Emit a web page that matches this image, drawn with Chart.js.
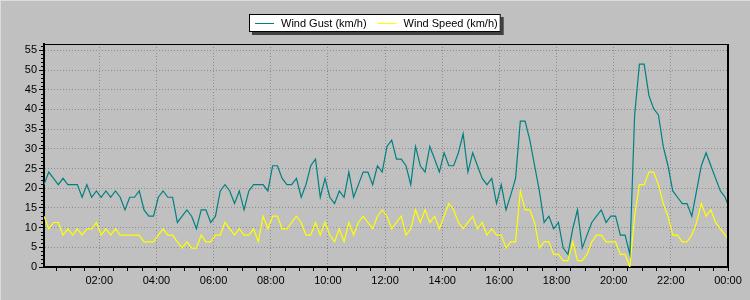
<!DOCTYPE html>
<html>
<head>
<meta charset="utf-8">
<script src="https://cdn.jsdelivr.net/npm/chart.js@4.4.1/dist/chart.umd.min.js"></script>
<style>
  html, body { margin: 0; padding: 0; background: #c0c0c0; }
  #wrap { width: 750px; height: 300px; }
</style>
</head>
<body>
<div id="wrap"><canvas id="windChart" width="750" height="300"></canvas></div>
<script>
// Mesures en km/h, une toutes les 10 minutes à partir de 00:04
const startMinute = 4;
const stepMinutes = 10;

const windGust = [
  20.9, 24.1, 22.5, 20.9, 22.5, 20.9, 20.9, 20.9, 17.7, 20.9,
  17.7, 19.3, 17.7, 19.3, 17.7, 19.3, 17.7, 14.5, 17.7, 17.7,
  19.3, 14.5, 12.9, 12.9, 17.7, 19.3, 17.7, 17.7, 11.3, 12.9,
  14.5, 12.9, 9.7, 14.5, 14.5, 11.3, 12.9, 19.3, 20.9, 19.3,
  16.1, 19.3, 14.5, 19.3, 20.9, 20.9, 20.9, 19.3, 25.7, 25.7,
  22.5, 20.9, 20.9, 22.5, 17.7, 20.9, 25.7, 27.4, 17.7, 22.5,
  17.7, 16.1, 19.3, 17.7, 24.1, 17.7, 20.9, 24.1, 24.1, 20.9,
  25.7, 24.1, 30.6, 32.2, 27.4, 27.4, 25.7, 20.9, 30.6, 25.7,
  24.1, 30.6, 27.4, 24.1, 29.0, 25.7, 25.7, 29.0, 33.8, 24.1,
  29.0, 25.7, 22.5, 20.9, 22.5, 16.1, 20.9, 14.5, 18.3, 22.5,
  37.0, 37.0, 32.2, 25.7, 19.3, 11.3, 12.9, 9.7, 11.3, 4.8,
  3.2, 9.7, 14.5, 4.8, 8.1, 11.3, 12.9, 14.5, 11.3, 12.9,
  12.9, 8.1, 8.1, 3.2, 38.6, 51.5, 51.5, 43.5, 40.2, 38.6,
  30.6, 25.7, 19.3, 17.7, 16.1, 16.1, 12.9, 19.3, 25.7, 29.0,
  25.7, 22.5, 19.3, 17.7, 14.5
];

const windSpeed = [
  12.9, 9.7, 11.3, 11.3, 8.1, 9.7, 8.1, 9.7, 8.1, 9.7,
  9.7, 11.3, 8.1, 9.7, 8.1, 9.7, 8.1, 8.1, 8.1, 8.1,
  8.1, 6.4, 6.4, 6.4, 8.1, 9.7, 8.1, 8.1, 6.4, 4.8,
  6.4, 4.8, 4.8, 8.1, 6.4, 6.4, 8.1, 8.1, 11.3, 9.7,
  8.1, 9.7, 8.1, 8.1, 9.7, 6.4, 12.9, 9.7, 12.9, 12.9,
  9.7, 9.7, 11.3, 12.9, 11.3, 8.1, 8.1, 11.3, 8.1, 11.3,
  8.1, 6.4, 9.7, 6.4, 11.3, 8.1, 11.3, 12.9, 11.3, 9.7,
  12.9, 14.5, 12.9, 9.7, 11.3, 12.9, 8.1, 9.7, 14.5, 11.3,
  14.5, 11.3, 12.9, 9.7, 12.9, 16.1, 14.5, 11.3, 9.7, 11.3,
  12.9, 9.7, 11.3, 8.1, 9.7, 8.1, 8.1, 4.8, 6.4, 6.4,
  19.3, 14.5, 14.5, 11.3, 4.8, 6.4, 6.4, 3.2, 3.2, 1.6,
  1.6, 6.4, 1.6, 1.6, 3.2, 6.4, 8.1, 8.1, 6.4, 6.4,
  6.4, 3.2, 3.2, 0, 12.9, 20.9, 20.9, 24.1, 24.1, 20.9,
  16.1, 12.9, 8.1, 8.1, 6.4, 6.4, 8.1, 11.3, 16.1, 12.9,
  14.5, 11.3, 9.7, 8.1, 6.4
];

const yTickValues = [0, 5, 10, 15, 20, 25, 30, 35, 40, 45, 50, 55];
const xTickHours = [2, 4, 6, 8, 10, 12, 14, 16, 18, 20, 22, 24];
const xTickLabels = ['02:00', '04:00', '06:00', '08:00', '10:00', '12:00',
                     '14:00', '16:00', '18:00', '20:00', '22:00', '00:00'];

const times = windGust.map((_, i) => startMinute + i * stepMinutes);
const halfHourTicks = [];
for (let m = 30; m <= 1440; m += 30) halfHourTicks.push(m);

const FONT = 'Liberation Sans, Arial, sans-serif';

// Fond, cadre du graphique et petites graduations de l'axe Y
const framePlugin = {
    id: 'frame',
    beforeDraw(chart) {
        const c = chart.ctx;
        c.save();
        c.fillStyle = '#c0c0c0';
        c.fillRect(0, 0, chart.width, chart.height);
        c.fillStyle = '#dcdcdc';
        c.fillRect(0, 0, chart.width, 1);
        c.fillRect(0, 0, 1, chart.height);
        c.restore();
    },
    afterDraw(chart) {
        const c = chart.ctx;
        const a = chart.chartArea;
        const y = chart.scales.y;
        c.save();
        c.strokeStyle = '#000';
        c.lineWidth = 1;
        c.beginPath();
        c.moveTo(a.left, a.top + 0.5);
        c.lineTo(a.right, a.top + 0.5);
        c.stroke();
        c.lineWidth = 2;
        c.beginPath();
        c.moveTo(a.right, a.top);
        c.lineTo(a.right, a.bottom);
        c.stroke();
        c.lineWidth = 1;
        for (let v = 1; v <= 56; v++) {
            if (v % 5 === 0) continue;
            const py = Math.round(y.getPixelForValue(v)) + 0.5;
            c.beginPath();
            c.moveTo(a.left - 3, py);
            c.lineTo(a.left, py);
            c.stroke();
        }
        c.restore();
    }
};

// Légende encadrée avec ombre
const legendPlugin = {
    id: 'boxLegend',
    afterDraw(chart) {
        const c = chart.ctx;
        const sets = chart.data.datasets;
        c.save();
        c.font = '11px ' + FONT;
        const widths = sets.map(d => c.measureText(d.label).width);
        const total = 6 + sets.length * 26 + widths.reduce((s, w) => s + w, 0) + 11 * (sets.length - 1) + 3;
        const bx = Math.round(374.5 - total / 2);
        const by = 14;
        const bh = 18;
        c.fillStyle = '#404040';
        c.fillRect(bx + 3, by + 3, total, bh);
        c.fillStyle = '#fff';
        c.fillRect(bx, by, total, bh);
        c.strokeStyle = '#000';
        c.lineWidth = 1;
        c.strokeRect(bx + 0.5, by + 0.5, total - 1, bh - 1);
        let x = bx + 6;
        const cy = by + bh / 2;
        sets.forEach((d, i) => {
            c.strokeStyle = d.borderColor;
            c.beginPath();
            c.moveTo(x, Math.round(cy) + 0.5);
            c.lineTo(x + 19, Math.round(cy) + 0.5);
            c.stroke();
            x += 26;
            c.fillStyle = '#000';
            c.textBaseline = 'middle';
            c.fillText(d.label, x, cy + 0.5);
            x += widths[i] + 11;
        });
        c.restore();
    }
};

const ctx = document.getElementById('windChart').getContext('2d');
new Chart(ctx, {
    type: 'line',
    data: {
        datasets: [
            {
                label: 'Wind Gust (km/h)',
                data: times.map((t, i) => ({ x: t, y: windGust[i] })),
                borderColor: '#008080',
                borderWidth: 1.2,
                pointRadius: 0,
                tension: 0
            },
            {
                label: 'Wind Speed (km/h)',
                data: times.map((t, i) => ({ x: t, y: windSpeed[i] })),
                borderColor: '#ffff00',
                borderWidth: 1.2,
                pointRadius: 0,
                tension: 0
            }
        ]
    },
    options: {
        responsive: false,
        animation: false,
        layout: { padding: { top: 44, right: 22, left: 0, bottom: 0 } },
        plugins: {
            legend: { display: false },
            tooltip: { enabled: false }
        },
        scales: {
            x: {
                type: 'linear',
                min: startMinute,
                max: 1440,
                afterBuildTicks: s => { s.ticks = halfHourTicks.map(v => ({ value: v })); },
                afterFit: s => { s.height = 33; },
                grid: {
                    color: c => (c.tick && c.tick.value % 120 === 0) ? '#8c8c8c' : 'rgba(0,0,0,0)',
                    tickColor: '#000',
                    tickLength: 4,
                    lineWidth: 1
                },
                border: { color: '#000', width: 2, dash: [1, 2] },
                ticks: {
                    autoSkip: false,
                    maxRotation: 0,
                    color: '#000',
                    padding: 3,
                    font: { family: FONT, size: 11 },
                    callback: v => {
                        const k = xTickHours.indexOf(v / 60);
                        return k >= 0 ? xTickLabels[k] : '';
                    }
                }
            },
            y: {
                min: 0,
                max: 56.6,
                afterBuildTicks: s => { s.ticks = yTickValues.map(v => ({ value: v })); },
                afterFit: s => { s.width = 44; },
                grid: {
                    color: '#8c8c8c',
                    tickColor: '#000',
                    tickLength: 5,
                    lineWidth: 1
                },
                border: { color: '#000', width: 2, dash: [1, 2] },
                ticks: {
                    color: '#000',
                    padding: 2,
                    font: { family: FONT, size: 11 }
                }
            }
        }
    },
    plugins: [framePlugin, legendPlugin]
});
</script>
</body>
</html>
